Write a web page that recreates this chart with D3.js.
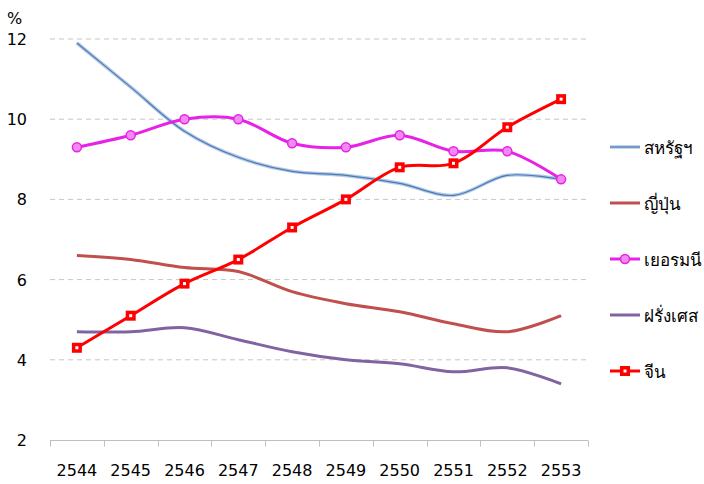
<!DOCTYPE html>
<html><head><meta charset="utf-8">
<script src="https://cdn.jsdelivr.net/npm/d3@7"></script>
<style>body{margin:0;background:#fff;}svg{display:block;font-family:"DejaVu Sans",sans-serif;}</style>
</head><body><svg id="c" width="704" height="484"></svg>
<script>
const years = ["2544","2545","2546","2547","2548","2549","2550","2551","2552","2553"];
const usa = [11.9,10.8,9.7,9.05,8.7,8.6,8.4,8.1,8.6,8.5];
const japan = [6.6,6.5,6.3,6.2,5.7,5.4,5.2,4.9,4.7,5.1];
const germany = [9.3,9.6,10.0,10.0,9.4,9.3,9.6,9.2,9.2,8.5];
const france = [4.7,4.7,4.8,4.5,4.2,4.0,3.9,3.7,3.8,3.4];
const china = [4.3,5.1,5.9,6.5,7.3,8.0,8.8,8.9,9.8,10.5];
const seriesNames = ["สหรัฐฯ","ญี่ปุ่น","เยอรมนี","ฝรั่งเศส","จีน"];
const yTicks = [2,4,6,8,10,12];

const svg = d3.select("#c");
const x = d3.scaleBand().domain(years).range([50,588]);
const y = d3.scaleLinear().domain([2,12]).range([440,39]);
const cx = d => x(d) + x.bandwidth()/2;

// gridlines
svg.append("g").selectAll("line").data(yTicks.filter(t=>t>2)).join("line")
  .attr("x1",50).attr("x2",588).attr("y1",d=>y(d)).attr("y2",d=>y(d))
  .attr("stroke","#c6c6c6").attr("stroke-dasharray","5,4").attr("stroke-width",1);

// y labels
svg.append("g").selectAll("text").data(yTicks).join("text")
  .attr("x",27).attr("y",d=>y(d)+6).attr("text-anchor","end")
  .attr("font-size",16).attr("fill","#000").text(d=>d);
svg.append("text").attr("x",7).attr("y",24).attr("font-size",16).text("%");

// x axis
const xa = svg.append("g").attr("transform","translate(0,440.5)");
xa.append("line").attr("x1",50).attr("x2",588).attr("stroke","#bfbfbf");
const bounds = years.map(d=>x(d)).concat([588]);
xa.selectAll("line.t").data(bounds).join("line").attr("class","t")
  .attr("x1",d=>Math.round(d)+0.5).attr("x2",d=>Math.round(d)+0.5).attr("y1",0).attr("y2",6).attr("stroke","#bfbfbf");
xa.selectAll("text").data(years).join("text")
  .attr("x",d=>cx(d)).attr("y",35).attr("text-anchor","middle").attr("font-size",16).text(d=>d);

const line = d3.line().x((d,i)=>cx(years[i])).y(d=>y(d)).curve(d3.curveCatmullRom.alpha(0.5));

// japan
svg.append("path").attr("d",line(japan)).attr("fill","none").attr("stroke","#c0504d").attr("stroke-width",3);
// france
svg.append("path").attr("d",line(france)).attr("fill","none").attr("stroke","#8064a2").attr("stroke-width",3);
// usa double line
svg.append("path").attr("d",line(usa)).attr("fill","none").attr("stroke","#b4cae6").attr("stroke-width",3.6);
svg.append("path").attr("d",line(usa)).attr("fill","none").attr("stroke","#4a7ab5").attr("stroke-width",1.2);
// germany
svg.append("path").attr("d",line(germany)).attr("fill","none").attr("stroke","#e622e6").attr("stroke-width",3);
svg.append("g").selectAll("circle").data(germany).join("circle")
  .attr("cx",(d,i)=>cx(years[i])).attr("cy",d=>y(d)).attr("r",4.5)
  .attr("fill","#f08af0").attr("stroke","#e622e6").attr("stroke-width",1.5);
// china
svg.append("path").attr("d",line(china)).attr("fill","none").attr("stroke","#ff0000").attr("stroke-width",3);
const cg = svg.append("g").selectAll("g").data(china).join("g")
  .attr("transform",(d,i)=>`translate(${cx(years[i])},${y(d)})`);
cg.append("rect").attr("x",-5).attr("y",-5).attr("width",10).attr("height",10).attr("fill","#ff0000");
cg.append("rect").attr("x",-1.5).attr("y",-1.5).attr("width",3).attr("height",3).attr("fill","#fff");

// legend
const lg = svg.append("g");
const legY = [147,203,259,315,371];
const legColors = ["#4f81bd","#c0504d","#e622e6","#8064a2","#ff0000"];
seriesNames.forEach((n,i)=>{
  const g = lg.append("g").attr("transform",`translate(0,${legY[i]})`);
  if(i===0){
    g.append("line").attr("x1",610).attr("x2",640).attr("stroke","#b4cae6").attr("stroke-width",3.6);
    g.append("line").attr("x1",610).attr("x2",640).attr("stroke","#4a7ab5").attr("stroke-width",1.2);
  } else {
    g.append("line").attr("x1",610).attr("x2",640).attr("stroke",legColors[i]).attr("stroke-width",3);
  }
  if(i===2) g.append("circle").attr("cx",625).attr("cy",0).attr("r",4.5).attr("fill","#f08af0").attr("stroke","#e622e6").attr("stroke-width",1.5);
  if(i===4){
    g.append("rect").attr("x",620).attr("y",-5).attr("width",10).attr("height",10).attr("fill","#ff0000");
    g.append("rect").attr("x",623.5).attr("y",-1.5).attr("width",3).attr("height",3).attr("fill","#fff");
  }
  g.append("text").attr("x",644).attr("y",7).attr("font-size",17)
    .attr("font-family","Tahoma,'Noto Sans','DejaVu Sans',sans-serif").text(n);
});
</script></body></html>
